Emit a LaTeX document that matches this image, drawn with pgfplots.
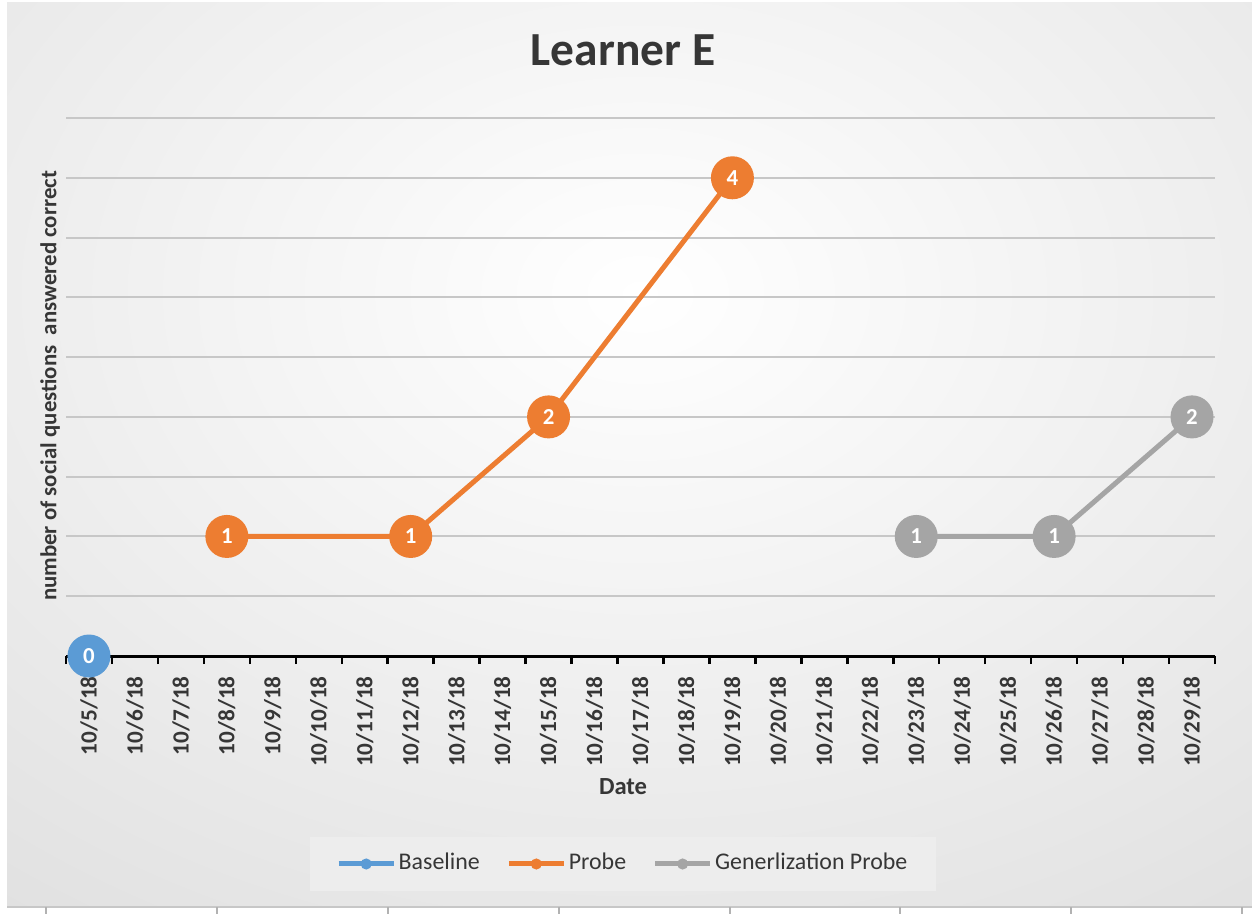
\documentclass[border=0pt]{standalone}
\usepackage{pgfplots}
\pgfplotsset{compat=1.18}
\usepackage{fontspec}
\setmainfont{Carlito}
\definecolor{cblue}{HTML}{5B9BD5}
\definecolor{corange}{HTML}{ED7D31}
\definecolor{cgray}{HTML}{A5A5A5}
\definecolor{ctext}{HTML}{363636}
\definecolor{bgout}{HTML}{D6D6D6}
\begin{document}
\begin{tikzpicture}
\begin{scope}[x=0.1mm,y=0.1mm]
\useasboundingbox (0,0) rectangle (1252,914);
\fill[white] (0,0) rectangle (1252,914);
\begin{scope}
\clip (7,7) rectangle (1252,911);
\fill[bgout] (7,7) rectangle (1252,911);
\shade[inner color=white, outer color=bgout] (640,620) ellipse [x radius=1450, y radius=1050];
\end{scope}
\draw[black!22, line width=0.2mm] (7,7) -- (1252,7);
\foreach \x in {46,217,388,559,730,900,1071,1242} \draw[black!30, line width=0.15mm] (\x,7) -- (\x,0);
\end{scope}
\begin{axis}[
  at={(6.6mm,25.8mm)}, anchor=south west,
  scale only axis, width=114.9mm, height=53.8mm,
  xmin=-0.5, xmax=24.5, ymin=0, ymax=4.5,
  clip=false,
  axis lines*=left,
  x axis line style={-, draw=black, line width=0.3mm},
  y axis line style={draw=none},
  xtick={0,...,24},
  xticklabels={10/5/18,10/6/18,10/7/18,10/8/18,10/9/18,10/10/18,10/11/18,10/12/18,10/13/18,10/14/18,10/15/18,10/16/18,10/17/18,10/18/18,10/19/18,10/20/18,10/21/18,10/22/18,10/23/18,10/24/18,10/25/18,10/26/18,10/27/18,10/28/18,10/29/18},
  minor xtick={-0.5,0.5,...,24.5},
  major tick length=0pt,
  minor tick length=0.8mm,
  minor tick style={black, line width=0.25mm},
  tick align=outside,
  ytick={0.5,1,...,4.5},
  yticklabels={},
  ymajorgrids,
  major grid style={black!22, line width=0.2mm},
  xticklabel shift=0.8mm,
  x tick label style={rotate=90, anchor=east, font=\bfseries\fontsize{6.6}{7}\selectfont, text=ctext},
  /pgf/number format/assume math mode=true,
  title={Learner E},
  title style={at={(axis description cs:0.4848,1.086)}, anchor=center, font=\bfseries\fontsize{13.5}{16}\selectfont, text=ctext},
  xlabel={Date},
  xlabel style={at={(axis description cs:0.4848,-0.2435)}, anchor=center, font=\bfseries\fontsize{7}{8}\selectfont, text=ctext},
  ylabel={number of social questions\ \ answered correct},
  ylabel style={at={(axis description cs:-0.0139,0.502)}, anchor=center, rotate=0, font=\bfseries\fontsize{6.5}{7}\selectfont, text=ctext},
  legend columns=3,
  legend style={at={(0.4848,-0.3866)}, anchor=center, draw=none, fill=black!7,
    font=\fontsize{6.8}{8}\selectfont, text=ctext, inner xsep=2.6mm, inner ysep=0.9mm,
    nodes={inner xsep=0.25mm},
    /tikz/every even column/.append style={column sep=2.4mm}},
  legend image code/.code={\draw[mark repeat=2, mark phase=2, #1, line width=0.5mm, mark size=0.45mm] plot coordinates {(0mm,0mm) (2.75mm,0mm) (5.5mm,0mm)};},
  every axis plot/.append style={line width=0.5mm, mark=*, mark size=2.05mm, mark options={line width=0.2mm},
    nodes near coords,
    every node near coord/.append style={anchor=center, text=white, font=\bfseries\fontsize{6.5}{7}\selectfont}},
]
\addplot[color=cblue] coordinates {(0,0)};
\addplot[color=corange] coordinates {(3,1) (7,1) (10,2) (14,4)};
\addplot[color=cgray] coordinates {(18,1) (21,1) (24,2)};
\legend{Baseline,Probe,Generlization Probe}
\end{axis}
\end{tikzpicture}
\end{document}
